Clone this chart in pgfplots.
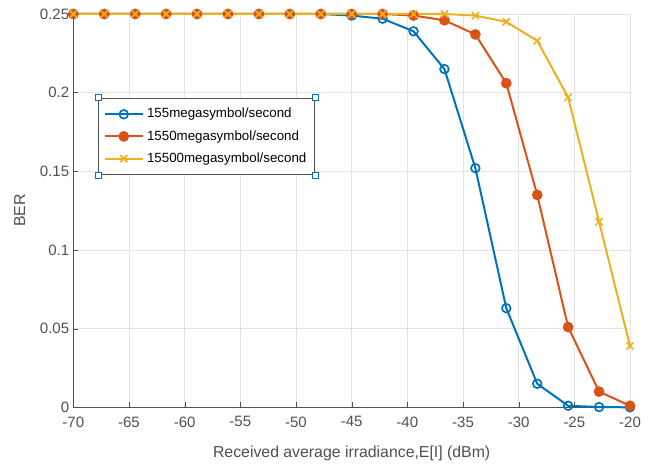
\documentclass[border=0pt]{standalone}
\usepackage{fontspec}
\setmainfont{Liberation Sans}
\usepackage{pgfplots}
\pgfplotsset{compat=1.18}
\definecolor{mBlue}{HTML}{0072BD}
\definecolor{mRed}{HTML}{D95319}
\definecolor{mYellow}{HTML}{EDB120}
\definecolor{axGray}{HTML}{505050}
\definecolor{gridGray}{HTML}{E3E3E3}

\begin{document}
\begin{tikzpicture}
\useasboundingbox (-44pt,-37pt) rectangle (346pt,244.4pt);
\begin{axis}[
  at={(0,0)}, anchor=south west,
  scale only axis,
  width=334pt,
  height=236pt,
  xmin=-70, xmax=-20,
  ymin=0, ymax=0.25,
  xtick={-70,-65,...,-20},
  ytick={0,0.05,0.1,0.15,0.2,0.25},
  axis lines=left,
  axis line style={draw=axGray, line width=0.8pt, -},
  tick style={draw=axGray},
  tick align=inside,
  major tick length=3pt,
  grid=major,
  major grid style={draw=gridGray, line width=0.5pt},
  tick label style={font=\fontsize{9}{10}\selectfont, text=axGray},
  /pgf/number format/assume math mode=true,
  yticklabel style={/pgf/number format/fixed, /pgf/number format/precision=2, xshift=1pt},
  xticklabel style={yshift=-2pt},
  scaled y ticks=false,
  xlabel={Received average irradiance,E[I] (dBm)},
  ylabel={BER},
  label style={font=\fontsize{9.5}{11}\selectfont, text=axGray},
  xlabel style={yshift=-4.5pt},
  ylabel style={yshift=2pt},
  clip=false,
  legend cell align=left,
  legend style={name=leg, draw=axGray, line width=0.5pt, fill=white,
    font=\fontsize{8}{9}\selectfont, at={(0.045,0.787)}, anchor=north west,
    inner xsep=3pt, inner ysep=4pt, row sep=2pt},
  legend image code/.code={
    \draw[mark repeat=2, mark phase=2, #1] plot coordinates {(0cm,0cm) (0.4cm,0cm) (0.8cm,0cm)};
  },
]
\addplot[color=mBlue, line width=1.2pt, mark=o, mark size=2.6pt, mark options={line width=1pt}] coordinates {
  (-70.000,0.2500) (-67.222,0.2500) (-64.444,0.2500) (-61.667,0.2500)
  (-58.889,0.2500) (-56.111,0.2500) (-53.333,0.2500) (-50.556,0.2500)
  (-47.778,0.2500) (-45.000,0.2490) (-42.222,0.2470) (-39.444,0.2390)
  (-36.667,0.2150) (-33.889,0.1520) (-31.111,0.0630) (-28.333,0.0150)
  (-25.556,0.0010) (-22.778,0.0002) (-20.000,0.0000)
};
\addplot[color=mRed, line width=1.2pt, mark=*, mark size=2.6pt] coordinates {
  (-70.000,0.2500) (-67.222,0.2500) (-64.444,0.2500) (-61.667,0.2500)
  (-58.889,0.2500) (-56.111,0.2500) (-53.333,0.2500) (-50.556,0.2500)
  (-47.778,0.2500) (-45.000,0.2500) (-42.222,0.2500) (-39.444,0.2490)
  (-36.667,0.2460) (-33.889,0.2370) (-31.111,0.2060) (-28.333,0.1350)
  (-25.556,0.0510) (-22.778,0.0100) (-20.000,0.0010)
};
\addplot[color=mYellow, line width=1.2pt, mark=x, mark size=3pt, mark options={line width=1pt}] coordinates {
  (-70.000,0.2500) (-67.222,0.2500) (-64.444,0.2500) (-61.667,0.2500)
  (-58.889,0.2500) (-56.111,0.2500) (-53.333,0.2500) (-50.556,0.2500)
  (-47.778,0.2500) (-45.000,0.2500) (-42.222,0.2500) (-39.444,0.2500)
  (-36.667,0.2500) (-33.889,0.2490) (-31.111,0.2450) (-28.333,0.2330)
  (-25.556,0.1970) (-22.778,0.1180) (-20.000,0.0390)
};
\legend{155megasymbol/second,1550megasymbol/second,15500megasymbol/second}
\end{axis}
\foreach \c in {north west,north east,south west,south east}
  \node[draw=mBlue, fill=white, line width=0.5pt, minimum size=3.5pt, inner sep=0pt] at (leg.\c) {};
\end{tikzpicture}
\end{document}
